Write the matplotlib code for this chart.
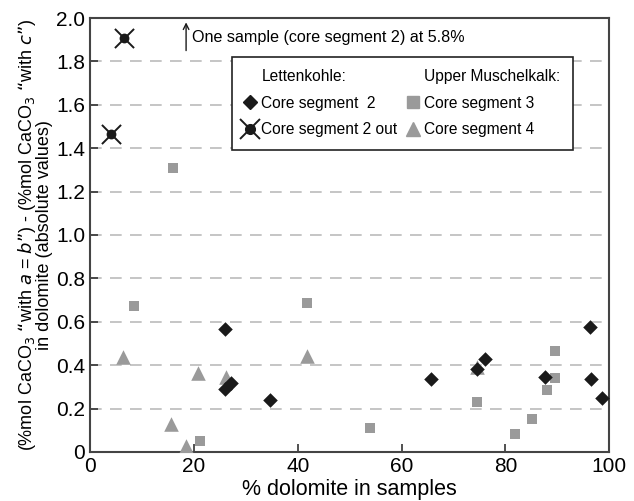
import numpy as np
import matplotlib
matplotlib.use('Agg')
from matplotlib import pyplot as plt
from matplotlib.lines import Line2D
from matplotlib.legend_handler import HandlerTuple

plt.rcParams['font.family'] = ['Liberation Sans', 'DejaVu Sans']

# core segment 2 (Lettenkohle)
cs2_x = [25.9, 25.9, 27.2, 34.6, 65.6, 74.6, 76.1, 87.7, 96.2, 96.5, 98.6]
cs2_y = [0.567, 0.289, 0.317, 0.24, 0.335, 0.381, 0.429, 0.344, 0.576, 0.335, 0.25]

# core segment 2 outliers
out_x = [4.0, 6.6]
out_y = [1.465, 1.91]

# core segment 3 (Upper Muschelkalk)
cs3_x = [15.9, 8.4, 21.2, 41.7, 53.9, 74.5, 81.8, 85.1, 88.1, 89.6, 89.6]
cs3_y = [1.307, 0.674, 0.049, 0.685, 0.112, 0.229, 0.081, 0.151, 0.284, 0.464, 0.34]

# core segment 4 (Upper Muschelkalk)
cs4_x = [6.4, 15.6, 18.4, 20.7, 26.2, 41.7, 74.5]
cs4_y = [0.436, 0.129, 0.025, 0.363, 0.343, 0.44, 0.39]

grey = '#9a9a9a'
dark = '#1a1a1a'

fig = plt.figure(figsize=(6.34, 5.01), dpi=100)
ax = fig.add_axes([0.142, 0.098, 0.819, 0.866])

ax.scatter(cs4_x, cs4_y, marker='^', s=110, color=grey, zorder=3, linewidths=0)
ax.scatter(cs3_x, cs3_y, marker='s', s=60, color=grey, zorder=3, linewidths=0)
ax.scatter(cs2_x, cs2_y, marker='D', s=55, color=dark, zorder=4, linewidths=0)
ax.scatter(out_x, out_y, marker='x', s=190, color=dark, linewidths=1.4, zorder=4)
ax.scatter(out_x, out_y, marker='o', s=50, color=dark, zorder=5, linewidths=0)

ax.set_xlim(0, 100)
ax.set_ylim(0, 2.0)
ax.set_xticks([0, 20, 40, 60, 80, 100])
ax.set_yticks(np.arange(0, 2.01, 0.2))
ax.set_yticklabels(['0', '0.2', '0.4', '0.6', '0.8', '1.0', '1.2', '1.4', '1.6', '1.8', '2.0'])
ax.tick_params(direction='in', length=6, width=1.2, labelsize=15, color='#333333')
for y in np.arange(0.2, 1.81, 0.2):
    ax.axhline(y, color='#bbbbbb', linestyle=(0, (7, 5)), linewidth=1.2, zorder=1)
for s in ax.spines.values():
    s.set_linewidth(1.5)
    s.set_color('#444444')

ax.set_xlabel('% dolomite in samples', fontsize=15.5, labelpad=2)
ax.set_ylabel('(%mol CaCO$_3$ \u201cwith $a$ = $b$\u201d) - (%mol CaCO$_3$ \u201cwith $c$\u201d)\nin dolomite (absolute values)',
              fontsize=13, labelpad=2, linespacing=0.9)

ax.annotate('', xy=(18.5, 1.98), xytext=(18.5, 1.85),
            arrowprops=dict(arrowstyle='->', color=dark, lw=1, shrinkA=0, shrinkB=0))
ax.text(19.6, 1.91, 'One sample (core segment 2) at 5.8%', fontsize=11.6, va='center', ha='left')

blank = Line2D([], [], linestyle='none', marker='none')
h_cs2 = Line2D([], [], linestyle='none', marker='D', color=dark, markersize=7)
h_out = (Line2D([], [], linestyle='none', marker='x', color=dark, markersize=14, mew=1.4),
         Line2D([], [], linestyle='none', marker='o', color=dark, markersize=7))
h_cs3 = Line2D([], [], linestyle='none', marker='s', color=grey, markersize=8)
h_cs4 = Line2D([], [], linestyle='none', marker='^', color=grey, markersize=10)

leg = ax.legend([blank, h_cs2, h_out, blank, h_cs3, h_cs4],
                ['Lettenkohle:', 'Core segment  2', 'Core segment 2 out',
                 'Upper Muschelkalk:', 'Core segment 3', 'Core segment 4'],
                handler_map={tuple: HandlerTuple(ndivide=1)},
                ncol=2, loc='upper left', bbox_to_anchor=(0.273, 0.911),
                borderaxespad=0,
                fontsize=11.2, frameon=True, fancybox=False, framealpha=1,
                edgecolor='#222222', handlelength=0.8, handletextpad=0.3,
                columnspacing=0.6, labelspacing=0.75, borderpad=0.8)
leg.get_frame().set_linewidth(1.2)

plt.savefig('out.png', dpi=100)
